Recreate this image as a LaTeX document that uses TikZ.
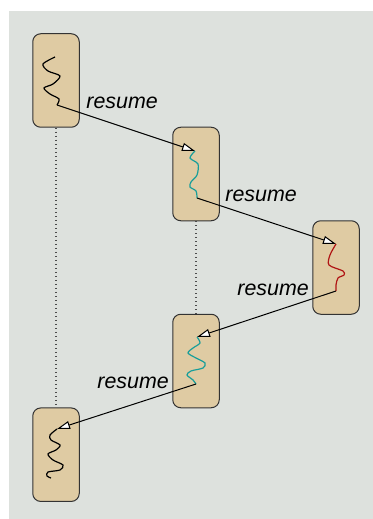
\documentclass[tikz,border=0pt]{standalone}
\usepackage{fontspec}
\setmainfont{Liberation Sans}
\usetikzlibrary{arrows.meta}
\definecolor{bggray}{RGB}{221,225,221}
\definecolor{boxtan}{RGB}{223,203,163}
\definecolor{cotteal}{RGB}{24,158,154}
\definecolor{cotred}{RGB}{176,20,20}

\begin{document}
\begin{tikzpicture}[x=0.5pt,y=-0.5pt,
    frame/.style={draw=black!80,fill=boxtan,rounded corners=4pt,line width=0.5pt,
        minimum width=23.25pt,minimum height=46.75pt,inner sep=0pt},
    wiggle/.style={line width=0.6pt},
    jump/.style={line width=0.5pt,-{Triangle[length=6.5pt,width=4pt,fill=white]}},
    lbl/.style={anchor=base west,inner sep=0pt,font=\fontsize{10.7}{12}\selectfont\itshape}]
    \useasboundingbox (0,0) rectangle (373,519);
    \fill[bggray] (9,11) rectangle (373,519);
    % coroutine frames
    \node[frame] (f1) at (56,80.5) {};
    \node[frame] (f2) at (196,174) {};
    \node[frame] (f3) at (336,267.5) {};
    \node[frame] (f4) at (196,361) {};
    \node[frame] (f5) at (56,454.7) {};
    \draw[line width=0.6pt,black!70,dash pattern=on 0.6pt off 1.4pt] (f1.south) -- (f5.north);
    \draw[line width=0.6pt,black!70,dash pattern=on 0.6pt off 1.4pt] (f2.south) -- (f4.north);
    % execution paths
    \draw[wiggle] plot[smooth] coordinates {(55,57) (43,64) (48,71) (60,76) (53,84) (44,88) (50,94) (59,99) (57,105)};
    \coordinate (e1) at (57,105);
    \coordinate (s2) at (195,151);
    \draw[wiggle,cotteal] plot[smooth] coordinates {(195,151) (190,158) (198,164) (197,175) (191,182) (190,187) (196,191) (197,198)};
    \coordinate (e2) at (197,198);
    \coordinate (s3) at (336,244);
    \draw[wiggle,cotred] plot[smooth] coordinates {(336,244) (330,255) (329,265) (343,271) (344,275) (338,278) (336,285) (336,291)};
    \coordinate (e3) at (336,291);
    \coordinate (s4) at (197,337);
    \draw[wiggle,cotteal] plot[smooth] coordinates {(197,337) (200,343) (193,348) (188,353) (196,358) (205,363) (203,368) (191,371) (187,375) (193,380) (196,384)};
    \coordinate (e4) at (196,384);
    \coordinate (s5) at (57,429);
    \draw[wiggle] plot[smooth] coordinates {(57,429) (50,435) (51,440) (60,445) (56,450) (48,454) (53,460) (63,465) (60,470) (48,472) (47,476) (51,478)};
    % resume transfers
    \draw[jump] (e1) -- (s2);
    \draw[jump] (e2) -- (s3);
    \draw[jump] (e3) -- (s4);
    \draw[jump] (e4) -- (s5);
    \node[lbl] (r1) at (86,109) {resume};
    \node[lbl] (r2) at (225,201.5) {resume};
    \node[lbl] (r3) at (237,295.5) {resume};
    \node[lbl] (r4) at (97,388.5) {resume};
\end{tikzpicture}
\end{document}
